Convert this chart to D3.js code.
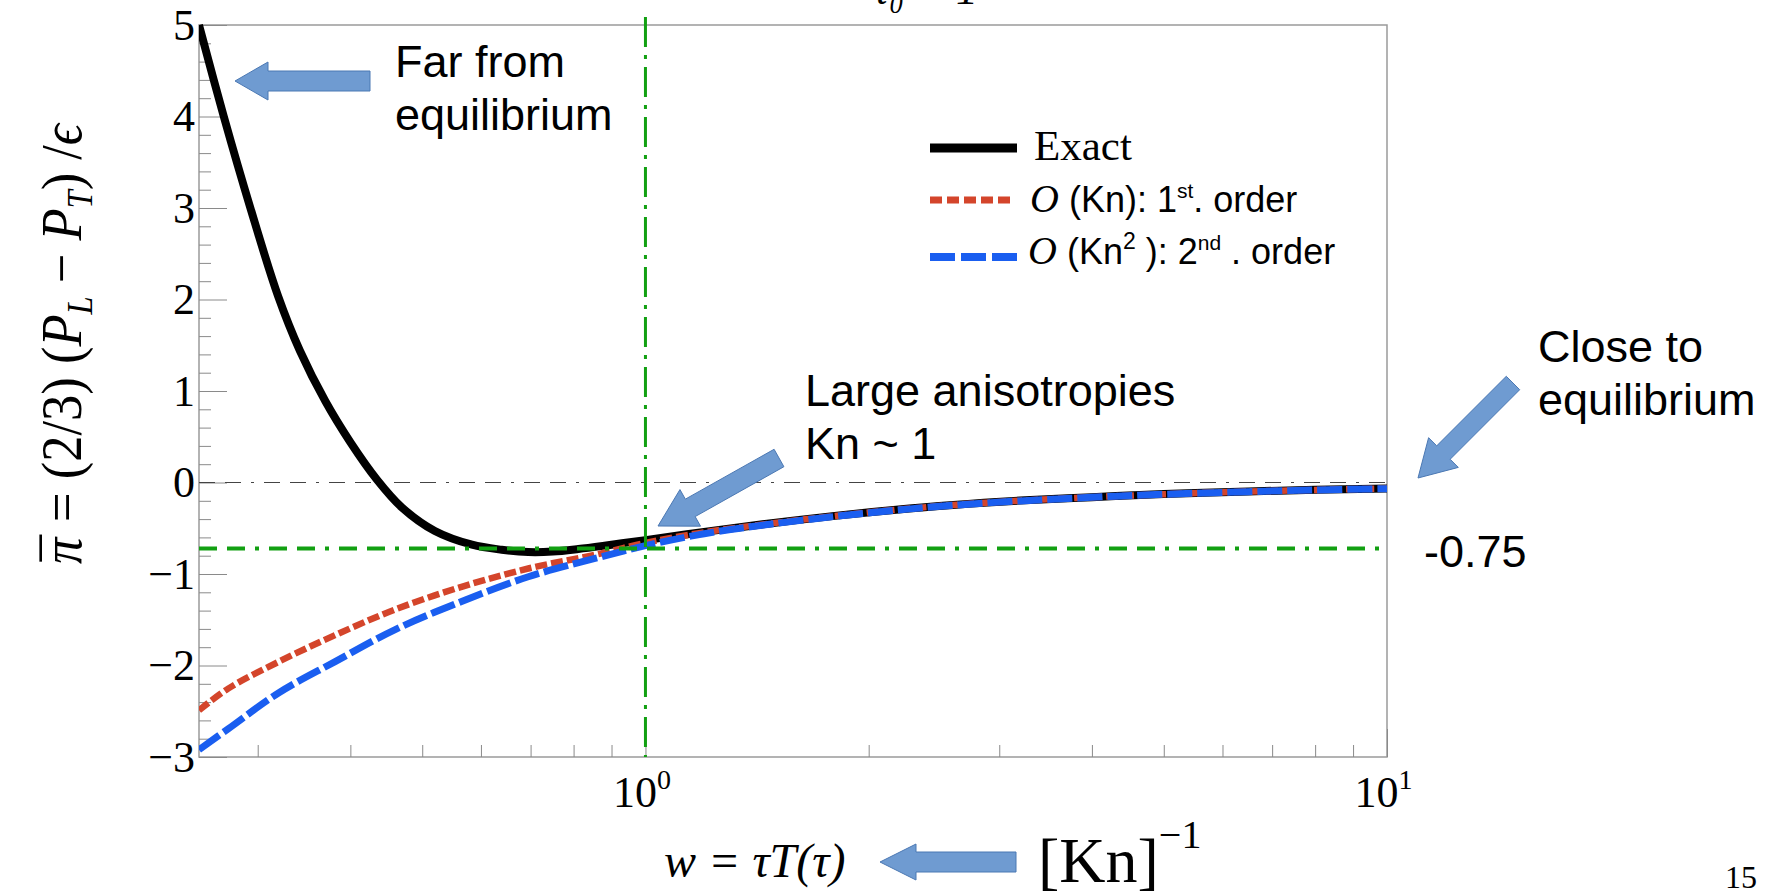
<!DOCTYPE html>
<html>
<head>
<meta charset="utf-8">
<script src="https://cdn.jsdelivr.net/npm/d3@7"></script>
<style>
  body { margin: 0; background: #fff; }
  svg { display: block; }
</style>
</head>
<body>
<div id="chart"></div>
<script>
var width = 1785;
var height = 896;

// exact solution
var exactW = [0.25, 0.27, 0.293, 0.3195, 0.342, 0.37, 0.4, 0.4345, 0.469, 0.52, 0.5835, 0.64, 0.695, 0.75, 0.812, 0.9, 1.0,
              1.2, 1.46, 1.8, 2.16, 2.6, 3.2, 4, 5, 6.5, 8, 10];
var exactPi = [5.0, 4.0, 3.01, 2.04, 1.44, 0.89, 0.44, 0.03, -0.27, -0.53, -0.68, -0.735, -0.76, -0.755, -0.727, -0.68, -0.63,
               -0.54, -0.45, -0.365, -0.30, -0.245, -0.198, -0.16, -0.127, -0.098, -0.08, -0.065];

// first and second order expansions
var orderW = [0.25, 0.274, 0.32, 0.381, 0.459, 0.565, 0.695, 0.855, 1, 1.2, 1.46, 1.8, 2.16, 2.6, 3.2, 4, 5, 6.5, 8, 10];
var firstPi = [-2.49, -2.25, -1.96, -1.67, -1.39, -1.14, -0.94, -0.79, -0.66, -0.545, -0.452, -0.366, -0.301, -0.246,
               -0.199, -0.161, -0.128, -0.099, -0.081, -0.066];
var secondPi = [-2.92, -2.69, -2.30, -1.96, -1.61, -1.30, -1.03, -0.83, -0.69, -0.56, -0.46, -0.371, -0.305, -0.249,
                -0.201, -0.162, -0.129, -0.1, -0.082, -0.067];

var yMajor = [-3, -2, -1, 0, 1, 2, 3, 4, 5];
var xMajor = [1, 10];
var xMinor = [0.3, 0.4, 0.5, 0.6, 0.7, 0.8, 0.9, 2, 3, 4, 5, 6, 7, 8, 9];
var refW = 1;
var refPi = -0.72;

var svg = d3.select("#chart").append("svg")
  .attr("width", width)
  .attr("height", height);

svg.append("rect").attr("width", width).attr("height", height).attr("fill", "#fff");

var x = d3.scaleLog().domain([0.25, 10]).range([199, 1387]);
var y = d3.scaleLinear().domain([-3, 5]).range([757, 25]);

var serif = "'Liberation Serif', 'DejaVu Serif', serif";
var sans = "'Liberation Sans', Arial, sans-serif";

// title, mostly above the visible area (as in the slide)
svg.append("text")
  .attr("x", 978).attr("y", 4)
  .attr("text-anchor", "end")
  .style("font-family", serif).style("font-size", "44px").style("font-style", "italic")
  .text("τ\u2080 = 1");

// frame
svg.append("rect")
  .attr("x", x.range()[0]).attr("y", y.range()[1])
  .attr("width", x.range()[1] - x.range()[0])
  .attr("height", y.range()[0] - y.range()[1])
  .attr("fill", "none").attr("stroke", "#9a9a9a").attr("stroke-width", 1.5);

// y axis
var yMinorVals = d3.range(-3, 5.001, 0.2).filter(function(v) { return Math.abs(v - Math.round(v)) > 0.01; });
svg.append("g")
  .attr("transform", "translate(" + x.range()[0] + ",0)")
  .call(d3.axisLeft(y).tickValues(yMinorVals).tickSize(-12).tickFormat(""))
  .call(function(g) { g.select(".domain").remove(); g.selectAll("line").attr("stroke", "#8a8a8a"); });

svg.append("g")
  .attr("transform", "translate(" + x.range()[0] + ",0)")
  .call(d3.axisLeft(y).tickValues(yMajor).tickSize(-28).tickPadding(4).tickFormat(d3.format("d")))
  .call(function(g) {
    g.select(".domain").remove();
    g.selectAll("line").attr("stroke", "#8a8a8a");
    g.selectAll("text").style("font-family", serif).style("font-size", "44px").attr("fill", "#000");
  });

// x axis
svg.append("g")
  .attr("transform", "translate(0," + y.range()[0] + ")")
  .call(d3.axisBottom(x).tickValues(xMinor).tickSize(-12).tickFormat(""))
  .call(function(g) { g.select(".domain").remove(); g.selectAll("line").attr("stroke", "#8a8a8a"); });

svg.append("g")
  .attr("transform", "translate(0," + y.range()[0] + ")")
  .call(d3.axisBottom(x).tickValues(xMajor).tickSize(-28).tickFormat(""))
  .call(function(g) {
    g.select(".domain").remove();
    g.selectAll("line").attr("stroke", "#8a8a8a");
    g.selectAll(".tick").each(function(d) {
      var t = d3.select(this).append("text")
        .attr("x", -4).attr("y", 50)
        .attr("text-anchor", "middle")
        .attr("fill", "#000")
        .style("font-family", serif).style("font-size", "44px");
      t.append("tspan").text("10");
      t.append("tspan").attr("dy", -18).style("font-size", "28px").text(Math.round(Math.log10(d)));
    });
  });

// reference line at zero
var plot = svg.append("g");
plot.append("clipPath").attr("id", "clip")
  .append("rect")
  .attr("x", x.range()[0]).attr("y", y.range()[1] - 4)
  .attr("width", x.range()[1] - x.range()[0])
  .attr("height", y.range()[0] - y.range()[1] + 4);

plot.append("line")
  .attr("x1", x.range()[0]).attr("x2", x.range()[1])
  .attr("y1", y(0)).attr("y2", y(0))
  .attr("stroke", "#444").attr("stroke-width", 1.2)
  .attr("stroke-dasharray", "16,10,16,10,3,10");

var lines = plot.append("g").attr("clip-path", "url(#clip)");

var line = d3.line()
  .x(function(d) { return x(d[0]); })
  .y(function(d) { return y(d[1]); })
  .curve(d3.curveCatmullRom.alpha(0.5));

lines.append("path")
  .datum(d3.zip(exactW, exactPi))
  .attr("d", line)
  .attr("fill", "none").attr("stroke", "#000").attr("stroke-width", 8);

lines.append("path")
  .datum(d3.zip(orderW, firstPi))
  .attr("d", line)
  .attr("fill", "none").attr("stroke", "#d4452b").attr("stroke-width", 6.5)
  .attr("stroke-dasharray", "12,4");

lines.append("path")
  .datum(d3.zip(orderW, secondPi))
  .attr("d", line)
  .attr("fill", "none").attr("stroke", "#1a5ef0").attr("stroke-width", 7)
  .attr("stroke-dasharray", "25,5");

// green guide lines
svg.append("line")
  .attr("x1", x(refW)).attr("x2", x(refW))
  .attr("y1", 17).attr("y2", y.range()[0])
  .attr("stroke", "#12a012").attr("stroke-width", 3)
  .attr("stroke-dasharray", "30,8,4,8");

svg.append("line")
  .attr("x1", x.range()[0]).attr("x2", x.range()[1])
  .attr("y1", y(refPi)).attr("y2", y(refPi))
  .attr("stroke", "#12a012").attr("stroke-width", 4)
  .attr("stroke-dasharray", "18,10,18,10,4,10");

// legend
var legend = svg.append("g");
legend.append("line").attr("x1", 930).attr("x2", 1017).attr("y1", 148).attr("y2", 148)
  .attr("stroke", "#000").attr("stroke-width", 9);
legend.append("text").attr("x", 1034).attr("y", 160)
  .style("font-family", serif).style("font-size", "43px").text("Exact");

legend.append("line").attr("x1", 930).attr("x2", 1013).attr("y1", 200).attr("y2", 200)
  .attr("stroke", "#d4452b").attr("stroke-width", 7).attr("stroke-dasharray", "12,5");
var l2 = legend.append("text").attr("x", 1030).attr("y", 212)
  .style("font-family", sans).style("font-size", "36px");
l2.append("tspan").style("font-family", serif).style("font-style", "italic").style("font-size", "40px").text("O");
l2.append("tspan").text(" (Kn): 1");
l2.append("tspan").attr("dy", -14).style("font-size", "21px").text("st");
l2.append("tspan").attr("dy", 14).text(". order");

legend.append("line").attr("x1", 930).attr("x2", 1017).attr("y1", 257).attr("y2", 257)
  .attr("stroke", "#1a5ef0").attr("stroke-width", 8).attr("stroke-dasharray", "25,6");
var l3 = legend.append("text").attr("x", 1028).attr("y", 264)
  .style("font-family", sans).style("font-size", "36px");
l3.append("tspan").style("font-family", serif).style("font-style", "italic").style("font-size", "40px").text("O");
l3.append("tspan").text(" (Kn");
l3.append("tspan").attr("dy", -15).style("font-size", "23px").text("2");
l3.append("tspan").attr("dy", 15).text("   ): 2");
l3.append("tspan").attr("dy", -14).style("font-size", "21px").text("nd");
l3.append("tspan").attr("dy", 14).text(" . order");

// axis titles
var yt = svg.append("text")
  .attr("transform", "translate(81,344) rotate(-90)")
  .attr("text-anchor", "middle")
  .attr("textLength", 440).attr("lengthAdjust", "spacingAndGlyphs")
  .style("font-family", serif).style("font-size", "58px");
yt.append("tspan").style("font-style", "italic").text("π");
yt.append("tspan").attr("dx", "-0.45em").attr("dy", 2).text("\u00af");
yt.append("tspan").attr("dy", -2).text(" = (2/3) (");
yt.append("tspan").style("font-style", "italic").text("P");
yt.append("tspan").attr("dy", 11).style("font-style", "italic").style("font-size", "36px").text("L");
yt.append("tspan").attr("dy", -11).text(" − ");
yt.append("tspan").style("font-style", "italic").text("P");
yt.append("tspan").attr("dy", 11).style("font-style", "italic").style("font-size", "36px").text("T");
yt.append("tspan").attr("dy", -11).text(") /");
yt.append("tspan").style("font-style", "italic").text("ϵ");

svg.append("text")
  .attr("x", 664).attr("y", 877)
  .style("font-family", serif).style("font-size", "48px").style("font-style", "italic")
  .text("w = τT(τ)");

var kn = svg.append("text")
  .attr("x", 1038).attr("y", 882)
  .style("font-family", serif).style("font-size", "64px");
kn.append("tspan").text("[Kn]");
kn.append("tspan").attr("dy", -34).style("font-size", "40px").text("−1");

svg.append("text")
  .attr("x", 1757).attr("y", 888)
  .attr("text-anchor", "end")
  .style("font-family", serif).style("font-size", "32px")
  .text("15");

// annotations
function blockArrow(tip, tail, shaftW, headW, headL) {
  var dx = tail[0] - tip[0], dy = tail[1] - tip[1];
  var len = Math.sqrt(dx * dx + dy * dy);
  var ux = dx / len, uy = dy / len;
  var px = -uy, py = ux;
  var bx = tip[0] + ux * headL, by = tip[1] + uy * headL;
  var pts = [
    tip,
    [bx + px * headW / 2, by + py * headW / 2],
    [bx + px * shaftW / 2, by + py * shaftW / 2],
    [tail[0] + px * shaftW / 2, tail[1] + py * shaftW / 2],
    [tail[0] - px * shaftW / 2, tail[1] - py * shaftW / 2],
    [bx - px * shaftW / 2, by - py * shaftW / 2],
    [bx - px * headW / 2, by - py * headW / 2]
  ];
  svg.append("path")
    .attr("d", "M" + pts.join("L") + "Z")
    .attr("fill", "#6f9bd1").attr("stroke", "#4b78b3").attr("stroke-width", 1);
}

blockArrow([235, 81], [370, 81], 20, 38, 33);
blockArrow([658, 526], [779, 458], 20, 42, 37);
blockArrow([1418, 478], [1513, 383], 19, 42, 36);
blockArrow([880, 862], [1016, 862], 20, 36, 36);

function note(xp, yp, linesTxt) {
  var t = svg.append("text")
    .attr("x", xp).attr("y", yp)
    .style("font-family", sans).style("font-size", "45px");
  linesTxt.forEach(function(s, i) {
    t.append("tspan").attr("x", xp).attr("dy", i === 0 ? 0 : 53).text(s);
  });
}

note(395, 77, ["Far from", "equilibrium"]);
note(805, 406, ["Large anisotropies", "Kn ~ 1"]);
note(1538, 362, ["Close to", "equilibrium"]);
note(1424, 567, ["-0.75"]);
</script>
</body>
</html>
